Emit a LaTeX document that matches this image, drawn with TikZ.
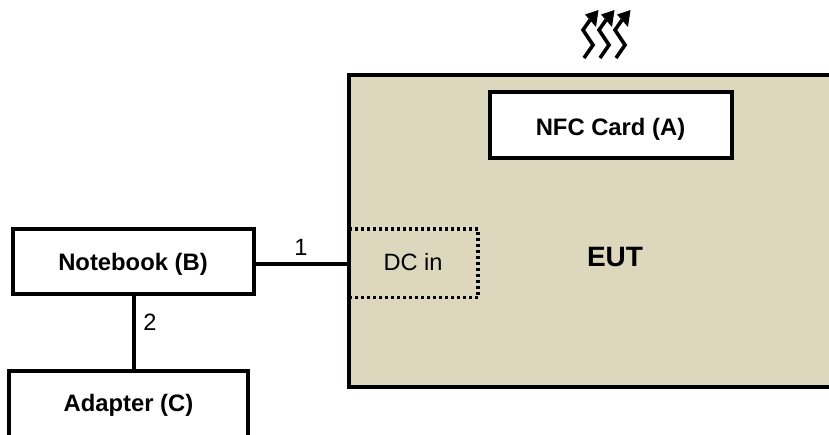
\documentclass[tikz,border=0pt]{standalone}
\usepackage{fontspec}
\setmainfont{Liberation Sans}
\tikzset{
 boxn/.style={draw=black,line width=4pt,fill=white,rectangle,inner sep=0pt,outer sep=0pt,anchor=north west},
 lnk/.style={draw=black,line width=4pt},
 lab/.style={font=\fontsize{23.6}{26}\selectfont,inner sep=0pt,anchor=base},
 blab/.style={font=\fontsize{23.8}{26}\selectfont\bfseries,inner sep=0pt,anchor=base},
 heat/.style={line width=3.6pt,line join=miter},
 heathead/.style={fill=black,draw=none}
}
\begin{document}
\begin{tikzpicture}[x=1pt,y=-1pt]
\useasboundingbox (0,0) rectangle (829,434);
\clip (0,0) rectangle (829,434);
\node[boxn,fill={rgb,255:red,221;green,215;blue,190},minimum width=500pt,minimum height=312.6pt] (eut) at (349,74.7) {};
\node[boxn,minimum width=241pt,minimum height=65pt] (nb) at (12.5,229) {};
\node[boxn,minimum width=239pt,minimum height=80pt] (ad) at (9,371) {};
\node[boxn,minimum width=242pt,minimum height=66pt] (nfc) at (490,92) {};
\node[blab] at (610.5,135) {NFC Card (A)};
\node[blab] at (133,270.7) {Notebook (B)};
\node[blab] at (128.5,411.7) {Adapter (C)};
\node[font=\fontsize{28}{30}\selectfont\bfseries,inner sep=0pt,anchor=base] at (615,266.7) {EUT};
\coordinate (dctl) at (349,229);
\coordinate (dctr) at (478,229);
\coordinate (dcbr) at (478,297.5);
\coordinate (dcbl) at (349,297.5);
\draw[black,line width=3.5pt,dash pattern=on 3pt off 3pt] (dctl) -- (dctr) -- (dcbr) -- (dcbl);
\node[lab] at (413,270.7) {DC in};
\path[lnk] ([yshift=-2.5pt]nb.east) -- ([yshift=-2.5pt]nb.east -| eut.west);
\path[lnk] (nb.south -| 134,0) -- (ad.north -| 134,0);
\node[lab] at (301,255) {1};
\node[lab] at (150,330.7) {2};
\foreach \d in {0,16,32}{
 \begin{scope}[xshift=\d pt]
 \draw[heat] (584,58) -- (593,45) -- (583,30) -- (590,20);
 \fill[heathead] (598.5,10) -- (585,14.5) -- (596,27) -- cycle;
 \end{scope}
}
\end{tikzpicture}
\end{document}
